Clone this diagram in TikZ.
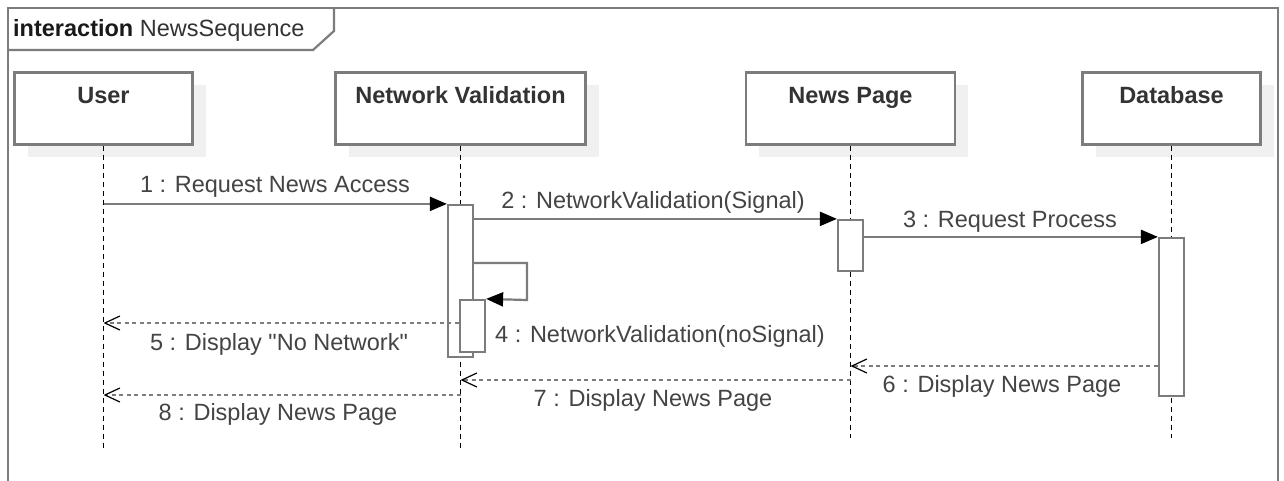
\documentclass[tikz,border=0pt]{standalone}
\usepackage{fontspec}
\setmainfont{Liberation Sans}[Ligatures=TeXOff]
\usetikzlibrary{arrows.meta,shadows}
\definecolor{lineg}{HTML}{7C7C7C}
\definecolor{shadowg}{HTML}{F0F0F0}
\definecolor{txtg}{HTML}{333333}
\definecolor{msgg}{HTML}{444444}
\begin{document}
\begin{tikzpicture}[x=1pt,y=-1pt,
  every node/.style={font=\fontsize{23.5}{26}\selectfont},
  frame/.style={draw=lineg, line width=2.2pt},
  lanebox/.style={draw=lineg, line width=2.2pt, fill=white, minimum height=72pt, inner sep=0pt,
    drop shadow={shadow xshift=13pt, shadow yshift=-13pt, fill=shadowg, opacity=1}},
  lanelbl/.style={anchor=base, text=txtg, font=\fontsize{23.5}{26}\selectfont\bfseries, inner sep=0pt},
  lifeline/.style={draw=black, line width=1.4pt, dash pattern=on 5pt off 4pt},
  actbox/.style={draw=lineg, line width=2.2pt, fill=white, minimum width=25pt, inner sep=0pt},
  callmsg/.style={draw=lineg, line width=2.2pt, -{Triangle[length=17pt,width=14pt,color=black]}},
  retmsg/.style={draw=lineg, line width=2.2pt, dash pattern=on 4pt off 3.5pt,
    -{Straight Barb[length=15pt,width=14pt,line width=1.2pt,color=black]}},
  msglbl/.style={anchor=base, text=msgg, inner sep=0pt}
]
\useasboundingbox (0,0) rectangle (1284,481);
\clip (0,0) rectangle (1284,481);
\fill[white] (0,0) rectangle (1284,481);

% frame and title tab
\draw[frame] (8,500) -- (8,8) -- (1278,8) -- (1278,500);
\draw[frame] (8,50) -- (313,50) -- (334,31) -- (334,8);
\node[anchor=base west, inner sep=0pt, text=txtg] (title) at (13,37)
  {{\bfseries\color{black!90}interaction} NewsSequence};

% lifeline heads
\node[lanebox, minimum width=178pt] (user) at (103.5,108.5) {};
\node[lanebox, minimum width=250pt] (nv)   at (460.5,108.5) {};
\node[lanebox, minimum width=209pt] (np)   at (850.5,108.5) {};
\node[lanebox, minimum width=178pt] (db)   at (1171.5,108.5) {};
\node[lanelbl] (userl) at (103.5,104) {User};
\node[lanelbl] (nvl)   at (460.5,104) {Network Validation};
\node[lanelbl] (npl)   at (850.5,104) {News Page};
\node[lanelbl] (dbl)   at (1171.5,104) {Database};

% lifeline ends
\coordinate (uend)  at (103.5,448);
\coordinate (nvend) at (460.5,448);
\coordinate (npend) at (850.5,438);
\coordinate (dbend) at (1171.5,438);
\draw[lifeline] (user.south) -- (uend);
\draw[lifeline] (nv.south) -- (nvend);
\draw[lifeline] (np.south) -- (npend);
\draw[lifeline] (db.south) -- (dbend);

% activations
\node[actbox, minimum height=152pt] (nv1) at (460.5,281) {};
\node[actbox, minimum height=52pt]  (nv2) at (472.5,326) {};
\node[actbox, minimum height=51pt]  (np1) at (850.5,245.5) {};
\node[actbox, minimum height=158pt] (db1) at (1171.5,317) {};

% y levels
\coordinate (s1) at (527,263);
\coordinate (s2) at (527,300);
\coordinate (y5) at (0,323);
\coordinate (y6) at (0,366);
\coordinate (y7) at (0,380);
\coordinate (y8) at (0,395);

% calls
\draw[callmsg] (user.south |- nv1.north) -- (nv1.north west);
\draw[callmsg] (nv1.east |- np1.north) -- (np1.north west);
\draw[callmsg] (np1.east |- db1.north) -- (db1.north west);
\draw[callmsg] (nv1.east |- s1) -- (s1) -- (s2) -- (nv2.north east);

% returns
\draw[retmsg] (nv2.west |- y5) -- (user.south |- y5);
\draw[retmsg] (db1.west |- y6) -- (np.south |- y6);
\draw[retmsg] (np.south |- y7) -- (nv.south |- y7);
\draw[retmsg] (nv.south |- y8) -- (user.south |- y8);

% labels
\node[msglbl] (l1) at (275,193)  {1 : Request News Access};
\node[msglbl] (l2) at (653,208)  {2 : NetworkValidation(Signal)};
\node[msglbl] (l3) at (1010,227) {3 : Request Process};
\node[msglbl] (l4) at (660,342)  {4 : NetworkValidation(noSignal)};
\node[msglbl] (l5) at (279,350)  {5 : Display "No Network"};
\node[msglbl] (l6) at (1002,392) {6 : Display News Page};
\node[msglbl] (l7) at (653,406)  {7 : Display News Page};
\node[msglbl] (l8) at (278,420)  {8 : Display News Page};
\end{tikzpicture}
\end{document}
